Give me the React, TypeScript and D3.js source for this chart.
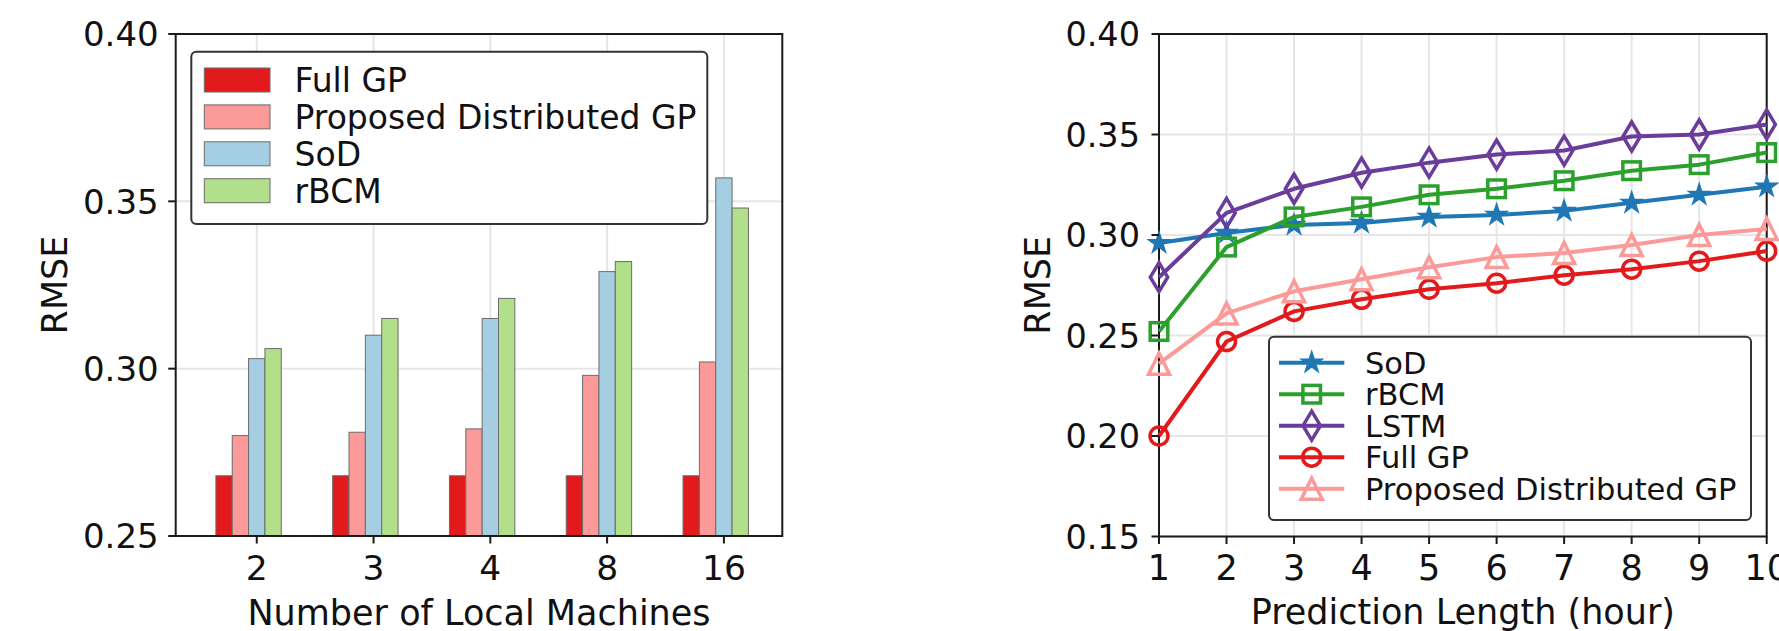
import React from 'react';
import * as d3 from 'd3';

// ---------- Left chart data (bar) ----------
const machineCounts = ['2', '3', '4', '8', '16'];
const barSeriesNames = ['Full GP', 'Proposed Distributed GP', 'SoD', 'rBCM'];
const barFullGP = [0.268, 0.268, 0.268, 0.268, 0.268];
const barProposed = [0.280, 0.281, 0.282, 0.298, 0.302];
const barSoD = [0.303, 0.310, 0.315, 0.329, 0.357];
const barRBCM = [0.306, 0.315, 0.321, 0.332, 0.348];
const barColors = ['#e31a1c', '#fb9a99', '#a6cee3', '#b2df8a'];
const barYTicks = [0.25, 0.30, 0.35, 0.40];

// ---------- Right chart data (lines) ----------
const hours = [1, 2, 3, 4, 5, 6, 7, 8, 9, 10];
const lineSoD = [0.296, 0.301, 0.305, 0.306, 0.309, 0.310, 0.312, 0.316, 0.320, 0.324];
const lineRBCM = [0.252, 0.294, 0.309, 0.314, 0.320, 0.323, 0.327, 0.332, 0.335, 0.341];
const lineLSTM = [0.279, 0.311, 0.323, 0.331, 0.336, 0.340, 0.342, 0.349, 0.350, 0.355];
const lineFullGP = [0.200, 0.247, 0.262, 0.268, 0.273, 0.276, 0.280, 0.283, 0.287, 0.292];
const lineProposed = [0.236, 0.261, 0.272, 0.278, 0.284, 0.289, 0.291, 0.295, 0.300, 0.303];
const lineNames = ['SoD', 'rBCM', 'LSTM', 'Full GP', 'Proposed Distributed GP'];
const lineColors = ['#1f77b4', '#2ca02c', '#6a3d9a', '#e31a1c', '#fb9a99'];
const lineMarkers = ['star', 'square', 'diamond', 'circle', 'triangle'];
const lineYTicks = [0.15, 0.20, 0.25, 0.30, 0.35, 0.40];

const FONT = 'DejaVu Sans, sans-serif';
const GRID = '#e6e6e6';
const SPINE = '#1a1a1a';

function starPath(R: number) {
  const pts: [number, number][] = [];
  const r = R * 0.382;
  for (let i = 0; i < 10; i++) {
    const a = -Math.PI / 2 + (i * Math.PI) / 5;
    const rr = i % 2 === 0 ? R : r;
    pts.push([rr * Math.cos(a), rr * Math.sin(a)]);
  }
  return 'M' + pts.map((p) => p[0].toFixed(2) + ',' + p[1].toFixed(2)).join('L') + 'Z';
}

function Marker({ type, x, y, color }: { type: string; x: number; y: number; color: string }) {
  const sw = 3.5;
  if (type === 'star') {
    return <path d={starPath(11)} transform={`translate(${x},${y})`} fill={color} stroke={color} strokeWidth={1.5} strokeLinejoin="miter" />;
  }
  if (type === 'square') {
    const h = 8.8;
    return <rect x={x - h} y={y - h} width={2 * h} height={2 * h} fill="none" stroke={color} strokeWidth={sw} />;
  }
  if (type === 'circle') {
    return <circle cx={x} cy={y} r={9} fill="none" stroke={color} strokeWidth={sw} />;
  }
  if (type === 'diamond') {
    const hh = 14.5, hw = 8.7;
    return <path d={`M${x},${y - hh}L${x + hw},${y}L${x},${y + hh}L${x - hw},${y}Z`} fill="none" stroke={color} strokeWidth={sw} />;
  }
  const t = 10.5;
  return <path d={`M${x},${y - t}L${x + t},${y + t}L${x - t},${y + t}Z`} fill="none" stroke={color} strokeWidth={sw} strokeLinejoin="miter" />;
}

export default function App() {
  // Left chart scales
  const xL = d3.scaleLinear().domain([-0.694, 4.5]).range([175.7, 782.3]);
  const yL = d3.scaleLinear().domain([0.25, 0.40]).range([536, 34]);
  const barData = [barFullGP, barProposed, barSoD, barRBCM];
  const barW = 0.14;

  // Right chart scales
  const xR = d3.scaleLinear().domain([1, 10]).range([1159, 1766.7]);
  const yR = d3.scaleLinear().domain([0.15, 0.40]).range([536.5, 34]);
  const lineData = [lineSoD, lineRBCM, lineLSTM, lineFullGP, lineProposed];
  const lineGen = d3
    .line<number>()
    .x((_, i) => xR(hours[i]))
    .y((d) => yR(d));

  const lx0 = xL.range()[0], lx1 = xL.range()[1];
  const ly0 = yL.range()[1], ly1 = yL.range()[0];
  const rx0 = xR.range()[0], rx1 = xR.range()[1];
  const ry0 = yR.range()[1], ry1 = yR.range()[0];

  return (
    <div style={{ position: 'absolute', left: 0, top: 0, background: '#fff' }}>
      <svg width={1779} height={631} viewBox="0 0 1779 631" style={{ display: 'block' }} fontFamily={FONT}>
        <rect x={0} y={0} width={1779} height={631} fill="#fff" />

        {/* ================= LEFT CHART ================= */}
        <g>
          {barYTicks.map((t) => (
            <line key={'lgy' + t} x1={lx0} x2={lx1} y1={yL(t)} y2={yL(t)} stroke={GRID} strokeWidth={2} />
          ))}
          {machineCounts.map((c, i) => (
            <line key={'lgx' + c} x1={xL(i)} x2={xL(i)} y1={ly0} y2={ly1} stroke={GRID} strokeWidth={2} />
          ))}
          {barData.map((series, k) =>
            series.map((v, i) => {
              const x0 = xL(i + (k - 2.5) * barW);
              const x1 = xL(i + (k - 1.5) * barW);
              return (
                <rect
                  key={`b${k}-${i}`}
                  x={x0}
                  y={yL(v)}
                  width={x1 - x0}
                  height={yL(0.25) - yL(v)}
                  fill={barColors[k]}
                  stroke="#6b6b6b"
                  strokeWidth={1}
                />
              );
            })
          )}
          <rect x={lx0} y={ly0} width={lx1 - lx0} height={ly1 - ly0} fill="none" stroke={SPINE} strokeWidth={2} />
          {barYTicks.map((t) => (
            <g key={'lyt' + t}>
              <line x1={lx0 - 7.5} x2={lx0} y1={yL(t)} y2={yL(t)} stroke={SPINE} strokeWidth={2} />
              <text x={lx0 - 17} y={yL(t)} dy="0.36em" textAnchor="end" fontSize={34} fill="#111">
                {d3.format('.2f')(t)}
              </text>
            </g>
          ))}
          {machineCounts.map((c, i) => (
            <g key={'lxt' + c}>
              <line x1={xL(i)} x2={xL(i)} y1={ly1} y2={ly1 + 7.5} stroke={SPINE} strokeWidth={2} />
              <text x={xL(i)} y={579.5} textAnchor="middle" fontSize={34.5} fill="#111">
                {c}
              </text>
            </g>
          ))}
          <text x={(lx0 + lx1) / 2} y={625} textAnchor="middle" fontSize={35} fill="#111">
            Number of Local Machines
          </text>
          <text transform={`translate(66.7,${(ly0 + ly1) / 2}) rotate(-90)`} textAnchor="middle" fontSize={35} fill="#111">
            RMSE
          </text>
          <rect x={191.3} y={51.7} width={707.3 - 191.3} height={224 - 51.7} rx={5} fill="#fff" stroke="#333" strokeWidth={2} />
          {barSeriesNames.map((n, k) => {
            const cy = 80 + k * 36.9;
            return (
              <g key={'lleg' + n}>
                <rect x={204.3} y={cy - 12} width={65.7} height={24} fill={barColors[k]} stroke="#6b6b6b" strokeWidth={1} />
                <text x={294.5} y={cy} dy="0.36em" fontSize={33} fill="#111">
                  {n}
                </text>
              </g>
            );
          })}
        </g>

        {/* ================= RIGHT CHART ================= */}
        <g>
          {lineYTicks.map((t) => (
            <line key={'rgy' + t} x1={rx0} x2={rx1} y1={yR(t)} y2={yR(t)} stroke={GRID} strokeWidth={2} />
          ))}
          {hours.map((h) => (
            <line key={'rgx' + h} x1={xR(h)} x2={xR(h)} y1={ry0} y2={ry1} stroke={GRID} strokeWidth={2} />
          ))}
          <rect x={rx0} y={ry0} width={rx1 - rx0} height={ry1 - ry0} fill="none" stroke={SPINE} strokeWidth={2} />
          {lineData.map((series, k) => (
            <g key={'ln' + k}>
              <path d={lineGen(series) || ''} fill="none" stroke={lineColors[k]} strokeWidth={4} strokeLinejoin="round" />
              {series.map((v, i) => (
                <Marker key={i} type={lineMarkers[k]} x={xR(hours[i])} y={yR(v)} color={lineColors[k]} />
              ))}
            </g>
          ))}
          {lineYTicks.map((t) => (
            <g key={'ryt' + t}>
              <line x1={rx0 - 7.5} x2={rx0} y1={yR(t)} y2={yR(t)} stroke={SPINE} strokeWidth={2} />
              <text x={rx0 - 19} y={yR(t)} dy="0.36em" textAnchor="end" fontSize={33.5} fill="#111">
                {d3.format('.2f')(t)}
              </text>
            </g>
          ))}
          {hours.map((h) => (
            <g key={'rxt' + h}>
              <line x1={xR(h)} x2={xR(h)} y1={ry1} y2={ry1 + 7.5} stroke={SPINE} strokeWidth={2} />
              <text x={xR(h)} y={579.5} textAnchor="middle" fontSize={35} fill="#111">
                {h}
              </text>
            </g>
          ))}
          <text x={(rx0 + rx1) / 2} y={623.5} textAnchor="middle" fontSize={35} fill="#111">
            Prediction Length (hour)
          </text>
          <text transform={`translate(1050,${(ry0 + ry1) / 2}) rotate(-90)`} textAnchor="middle" fontSize={35} fill="#111">
            RMSE
          </text>
          <rect x={1269} y={336.7} width={1751 - 1269} height={520 - 336.7} rx={5} fill="#fff" stroke="#333" strokeWidth={2} />
          {lineNames.map((n, k) => {
            const cy = 362.7 + k * 31.5;
            return (
              <g key={'rleg' + n}>
                <line x1={1279} x2={1344.3} y1={cy} y2={cy} stroke={lineColors[k]} strokeWidth={4} />
                <Marker type={lineMarkers[k]} x={1311.7} y={cy} color={lineColors[k]} />
                <text x={1365} y={cy} dy="0.36em" fontSize={30.5} fill="#111">
                  {n}
                </text>
              </g>
            );
          })}
        </g>
      </svg>
    </div>
  );
}
